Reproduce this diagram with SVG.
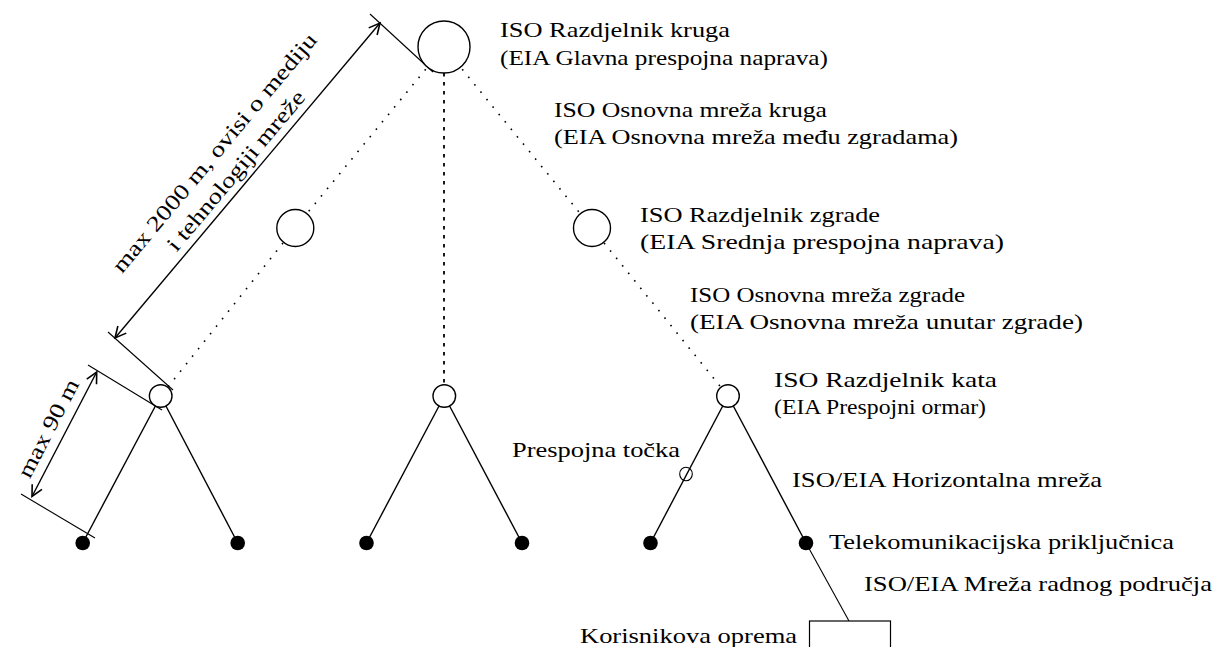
<svg xmlns="http://www.w3.org/2000/svg" width="1215" height="647" viewBox="0 0 1215 647">
<style>
text{font-family:"Liberation Serif","Times New Roman",Times,serif;font-size:22px;fill:#000}
.solid{stroke:#000;stroke-width:1.4;fill:none}
.thin{stroke:#000;stroke-width:1.1;fill:none}
.ddiag{stroke:#000;stroke-width:1.6;stroke-dasharray:1.6 8;fill:none}
.dvert{stroke:#000;stroke-width:1.8;stroke-dasharray:3.5 5.5;fill:none}
.node{fill:#fff;stroke:#000;stroke-width:1.4}
.out{fill:#000;stroke:none}
.dim{stroke:#000;stroke-width:1.4;fill:none;marker-start:url(#arr);marker-end:url(#arr)}
</style>
<defs>
<marker id="arr" viewBox="0 0 14 14" refX="12" refY="7" markerWidth="14" markerHeight="14" markerUnits="userSpaceOnUse" orient="auto-start-reverse">
<path d="M1,1.5 L12,7 L1,12.5" fill="none" stroke="#000" stroke-width="1.6"/>
</marker>
</defs>

<g id="connectors">
<line class="ddiag" x1="444" y1="47" x2="295" y2="228"/>
<line class="ddiag" x1="295" y1="228" x2="160.7" y2="396"/>
<line class="dvert" x1="444" y1="73" x2="444" y2="385"/>
<line class="ddiag" x1="444" y1="47" x2="592" y2="228"/>
<line class="ddiag" x1="592" y1="228" x2="728" y2="396"/>
<line class="solid" x1="160.7" y1="396" x2="82.7" y2="543"/>
<line class="solid" x1="160.7" y1="396" x2="237.7" y2="543"/>
<line class="solid" x1="444.3" y1="396" x2="366.5" y2="543"/>
<line class="solid" x1="444.3" y1="396" x2="522" y2="543"/>
<line class="solid" x1="728" y1="396" x2="650.5" y2="543"/>
<line class="solid" x1="728" y1="396" x2="806" y2="543"/>
<line class="thin" x1="806" y1="543" x2="849" y2="621"/>
</g>

<g id="dimensions">
<line class="thin" x1="370" y1="14" x2="433" y2="72"/>
<line class="thin" x1="108" y1="332" x2="173" y2="390"/>
<line class="dim" x1="380" y1="23" x2="115" y2="338"/>
<line class="thin" x1="88" y1="365" x2="162" y2="410"/>
<line class="thin" x1="21" y1="494" x2="95" y2="538"/>
<line class="dim" x1="96.7" y1="372" x2="32" y2="496.5"/>
<g transform="translate(247.5,180.5) rotate(-50)">
<text x="0" y="-36" text-anchor="middle" textLength="305" lengthAdjust="spacingAndGlyphs">max 2000 m, ovisi o mediju</text>
<text x="0" y="-8" text-anchor="middle" textLength="202" lengthAdjust="spacingAndGlyphs">i tehnologiji mreže</text>
</g>
<g transform="translate(64.5,434.5) rotate(-62.5)">
<text x="-2" y="-10" text-anchor="middle" textLength="108" lengthAdjust="spacingAndGlyphs">max 90 m</text>
</g>
</g>

<g id="node-campus-distributor">
<circle class="node" cx="444" cy="47" r="26"/>
<text x="500" y="37" textLength="230" lengthAdjust="spacingAndGlyphs">ISO Razdjelnik kruga</text>
<text x="500" y="65" textLength="328" lengthAdjust="spacingAndGlyphs">(EIA Glavna prespojna naprava)</text>
</g>
<g id="label-campus-backbone">
<text x="554" y="117" textLength="273" lengthAdjust="spacingAndGlyphs">ISO Osnovna mreža kruga</text>
<text x="554" y="144" textLength="404" lengthAdjust="spacingAndGlyphs">(EIA Osnovna mreža među zgradama)</text>
</g>
<g id="node-building-distributor-1">
<circle class="node" cx="295.3" cy="228" r="18.5"/>
</g>
<g id="node-building-distributor-2">
<circle class="node" cx="592" cy="228" r="18.5"/>
<text x="640" y="222" textLength="240" lengthAdjust="spacingAndGlyphs">ISO Razdjelnik zgrade</text>
<text x="640" y="249" textLength="364" lengthAdjust="spacingAndGlyphs">(EIA Srednja prespojna naprava)</text>
</g>
<g id="label-building-backbone">
<text x="690" y="302" textLength="275" lengthAdjust="spacingAndGlyphs">ISO Osnovna mreža zgrade</text>
<text x="690" y="329" textLength="393" lengthAdjust="spacingAndGlyphs">(EIA Osnovna mreža unutar zgrade)</text>
</g>
<g id="node-floor-distributor-1">
<circle class="node" cx="160.7" cy="396" r="11.3"/>
</g>
<g id="node-floor-distributor-2">
<circle class="node" cx="444.3" cy="396" r="11.3"/>
</g>
<g id="node-floor-distributor-3">
<circle class="node" cx="728" cy="396" r="11.3"/>
<text x="774" y="387" textLength="223" lengthAdjust="spacingAndGlyphs">ISO Razdjelnik kata</text>
<text x="774" y="414" textLength="212" lengthAdjust="spacingAndGlyphs">(EIA Prespojni ormar)</text>
</g>
<g id="node-consolidation-point">
<ellipse cx="686" cy="474" rx="6.3" ry="6.8" fill="none" stroke="#000" stroke-width="1.1"/>
<text x="512" y="457" textLength="168" lengthAdjust="spacingAndGlyphs">Prespojna točka</text>
</g>
<g id="label-horizontal">
<text x="792" y="487" textLength="310" lengthAdjust="spacingAndGlyphs">ISO/EIA Horizontalna mreža</text>
</g>
<g id="node-outlet-1"><circle class="out" cx="82.7" cy="543" r="7.3"/></g>
<g id="node-outlet-2"><circle class="out" cx="237.7" cy="543" r="7.3"/></g>
<g id="node-outlet-3"><circle class="out" cx="366.5" cy="543" r="7.3"/></g>
<g id="node-outlet-4"><circle class="out" cx="522" cy="543" r="7.3"/></g>
<g id="node-outlet-5"><circle class="out" cx="650.5" cy="543" r="7.3"/></g>
<g id="node-outlet-6">
<circle class="out" cx="806" cy="543" r="7.3"/>
<text x="829" y="549" textLength="345" lengthAdjust="spacingAndGlyphs">Telekomunikacijska priključnica</text>
</g>
<g id="label-work-area">
<text x="864" y="591" textLength="348" lengthAdjust="spacingAndGlyphs">ISO/EIA Mreža radnog područja</text>
</g>
<g id="node-user-equipment">
<rect x="809.5" y="621" width="81" height="40" fill="#fff" stroke="#000" stroke-width="1.2"/>
<text x="580" y="643" textLength="217" lengthAdjust="spacingAndGlyphs">Korisnikova oprema</text>
</g>
</svg>
